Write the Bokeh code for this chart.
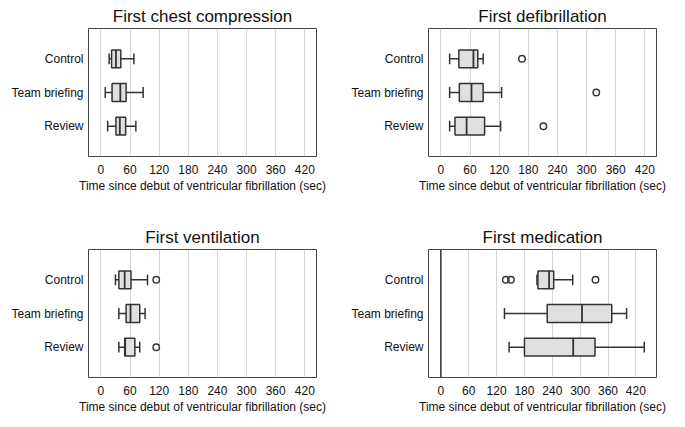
from bokeh.plotting import figure
from bokeh.layouts import column, row
from bokeh.models import FactorRange, Range1d, FixedTicker, ColumnDataSource, Span
from bokeh.transform import dodge
from bokeh.embed import file_html
from bokeh.resources import INLINE

categories = ["Control", "Team briefing", "Review"]
ticks = [0, 60, 120, 180, 240, 300, 360, 420]
xlabel = "Time since debut of ventricular fibrillation (sec)"

chest_lo = [17, 9, 14]
chest_q1 = [22, 23, 31]
chest_med = [31, 40, 39]
chest_q3 = [41, 52, 51]
chest_hi = [68, 87, 72]
chest_out_cat = []
chest_out_val = []

defib_lo = [18, 18, 18]
defib_q1 = [37, 38, 29]
defib_med = [67, 63, 53]
defib_q3 = [76, 87, 90]
defib_hi = [87, 125, 123]
defib_out_cat = ["Control", "Team briefing", "Review"]
defib_out_val = [167, 320, 211]

vent_lo = [30, 37, 37]
vent_q1 = [37, 52, 49]
vent_med = [49, 61, 50]
vent_q3 = [62, 80, 70]
vent_hi = [96, 91, 80]
vent_out_cat = ["Control", "Review"]
vent_out_val = [114, 114]

med_lo = [207, 137, 147]
med_q1 = [209, 229, 180]
med_med = [233, 304, 285]
med_q3 = [243, 368, 332]
med_hi = [284, 400, 438]
med_out_cat = ["Control", "Control", "Control"]
med_out_val = [140, 151, 333]

FONT = "Liberation Sans"
LINE = "#333333"
LW = 1.5


def panel(title, lo, q1, med, q3, hi, ocat, oval, xr, left_border, top_border, bottom_border, zero_line=False):
    yr = FactorRange(factors=list(reversed(categories)), range_padding=0.4,
                     range_padding_units="absolute")
    p = figure(y_range=yr, x_range=Range1d(*xr), frame_width=228, frame_height=128,
               min_border_left=left_border, min_border_right=20,
               min_border_top=top_border, min_border_bottom=bottom_border,
               output_backend="svg", toolbar_location=None, title=title)
    p.title.text_font = FONT
    p.title.text_font_size = "17px"
    p.title.text_font_style = "normal"
    p.title.align = "center"
    p.title.text_color = "#111111"
    p.title.standoff = 6
    p.outline_line_color = "#444444"
    p.outline_line_width = 1
    p.ygrid.grid_line_color = None
    p.xgrid.grid_line_color = "#d4d4d4"
    p.xgrid.grid_line_width = 1
    p.xaxis.ticker = FixedTicker(ticks=ticks)
    for ax in (p.xaxis[0], p.yaxis[0]):
        ax.axis_line_color = None
        ax.major_tick_out = 0
        ax.major_tick_in = 0
        ax.minor_tick_out = 0
        ax.minor_tick_in = 0
        ax.major_label_text_font = FONT
        ax.major_label_text_font_size = "12px"
        ax.major_label_text_color = "#111111"
    p.yaxis.major_label_standoff = 5
    p.xaxis.major_label_standoff = 8
    p.xaxis.axis_label = xlabel
    p.xaxis.axis_label_text_font = FONT
    p.xaxis.axis_label_text_font_size = "12px"
    p.xaxis.axis_label_text_font_style = "normal"
    p.xaxis.axis_label_text_color = "#111111"
    p.xaxis.axis_label_standoff = 2

    if zero_line:
        p.add_layout(Span(location=0, dimension="height", line_color="#333333", line_width=1.5))

    src = ColumnDataSource(dict(cat=categories, lo=lo, q1=q1, med=med, q3=q3, hi=hi))
    p.segment(x0="lo", x1="q1", y0="cat", y1="cat", source=src, line_color=LINE, line_width=LW)
    p.segment(x0="q3", x1="hi", y0="cat", y1="cat", source=src, line_color=LINE, line_width=LW)
    p.segment(x0="lo", x1="lo", y0=dodge("cat", -0.16, range=yr), y1=dodge("cat", 0.16, range=yr),
              source=src, line_color=LINE, line_width=LW)
    p.segment(x0="hi", x1="hi", y0=dodge("cat", -0.16, range=yr), y1=dodge("cat", 0.16, range=yr),
              source=src, line_color=LINE, line_width=LW)
    p.hbar(y="cat", left="q1", right="q3", height=0.53, source=src,
           fill_color="#e0e0e0", line_color=LINE, line_width=LW)
    p.segment(x0="med", x1="med", y0=dodge("cat", -0.265, range=yr), y1=dodge("cat", 0.265, range=yr),
              source=src, line_color=LINE, line_width=1.8)
    if oval:
        osrc = ColumnDataSource(dict(cat=ocat, val=oval))
        p.scatter(x="val", y="cat", source=osrc, size=6.5, marker="circle",
                  fill_color=None, line_color=LINE, line_width=1.4)
    return p


p1 = panel("First chest compression", chest_lo, chest_q1, chest_med, chest_q3, chest_hi,
           chest_out_cat, chest_out_val, (-25.5, 444), 88, 28, 50)
p2 = panel("First defibrillation", defib_lo, defib_q1, defib_med, defib_q3, defib_hi,
           defib_out_cat, defib_out_val, (-25.5, 444), 92, 28, 50)
p3 = panel("First ventilation", vent_lo, vent_q1, vent_med, vent_q3, vent_hi,
           vent_out_cat, vent_out_val, (-25.5, 444), 88, 43, 40)
p4 = panel("First medication", med_lo, med_q1, med_med, med_q3, med_hi,
           med_out_cat, med_out_val, (-26.6, 464.4), 92, 43, 40, zero_line=True)

layout = column(row(p1, p2), row(p3, p4))

open("out.html", "w").write(file_html(layout, INLINE))
